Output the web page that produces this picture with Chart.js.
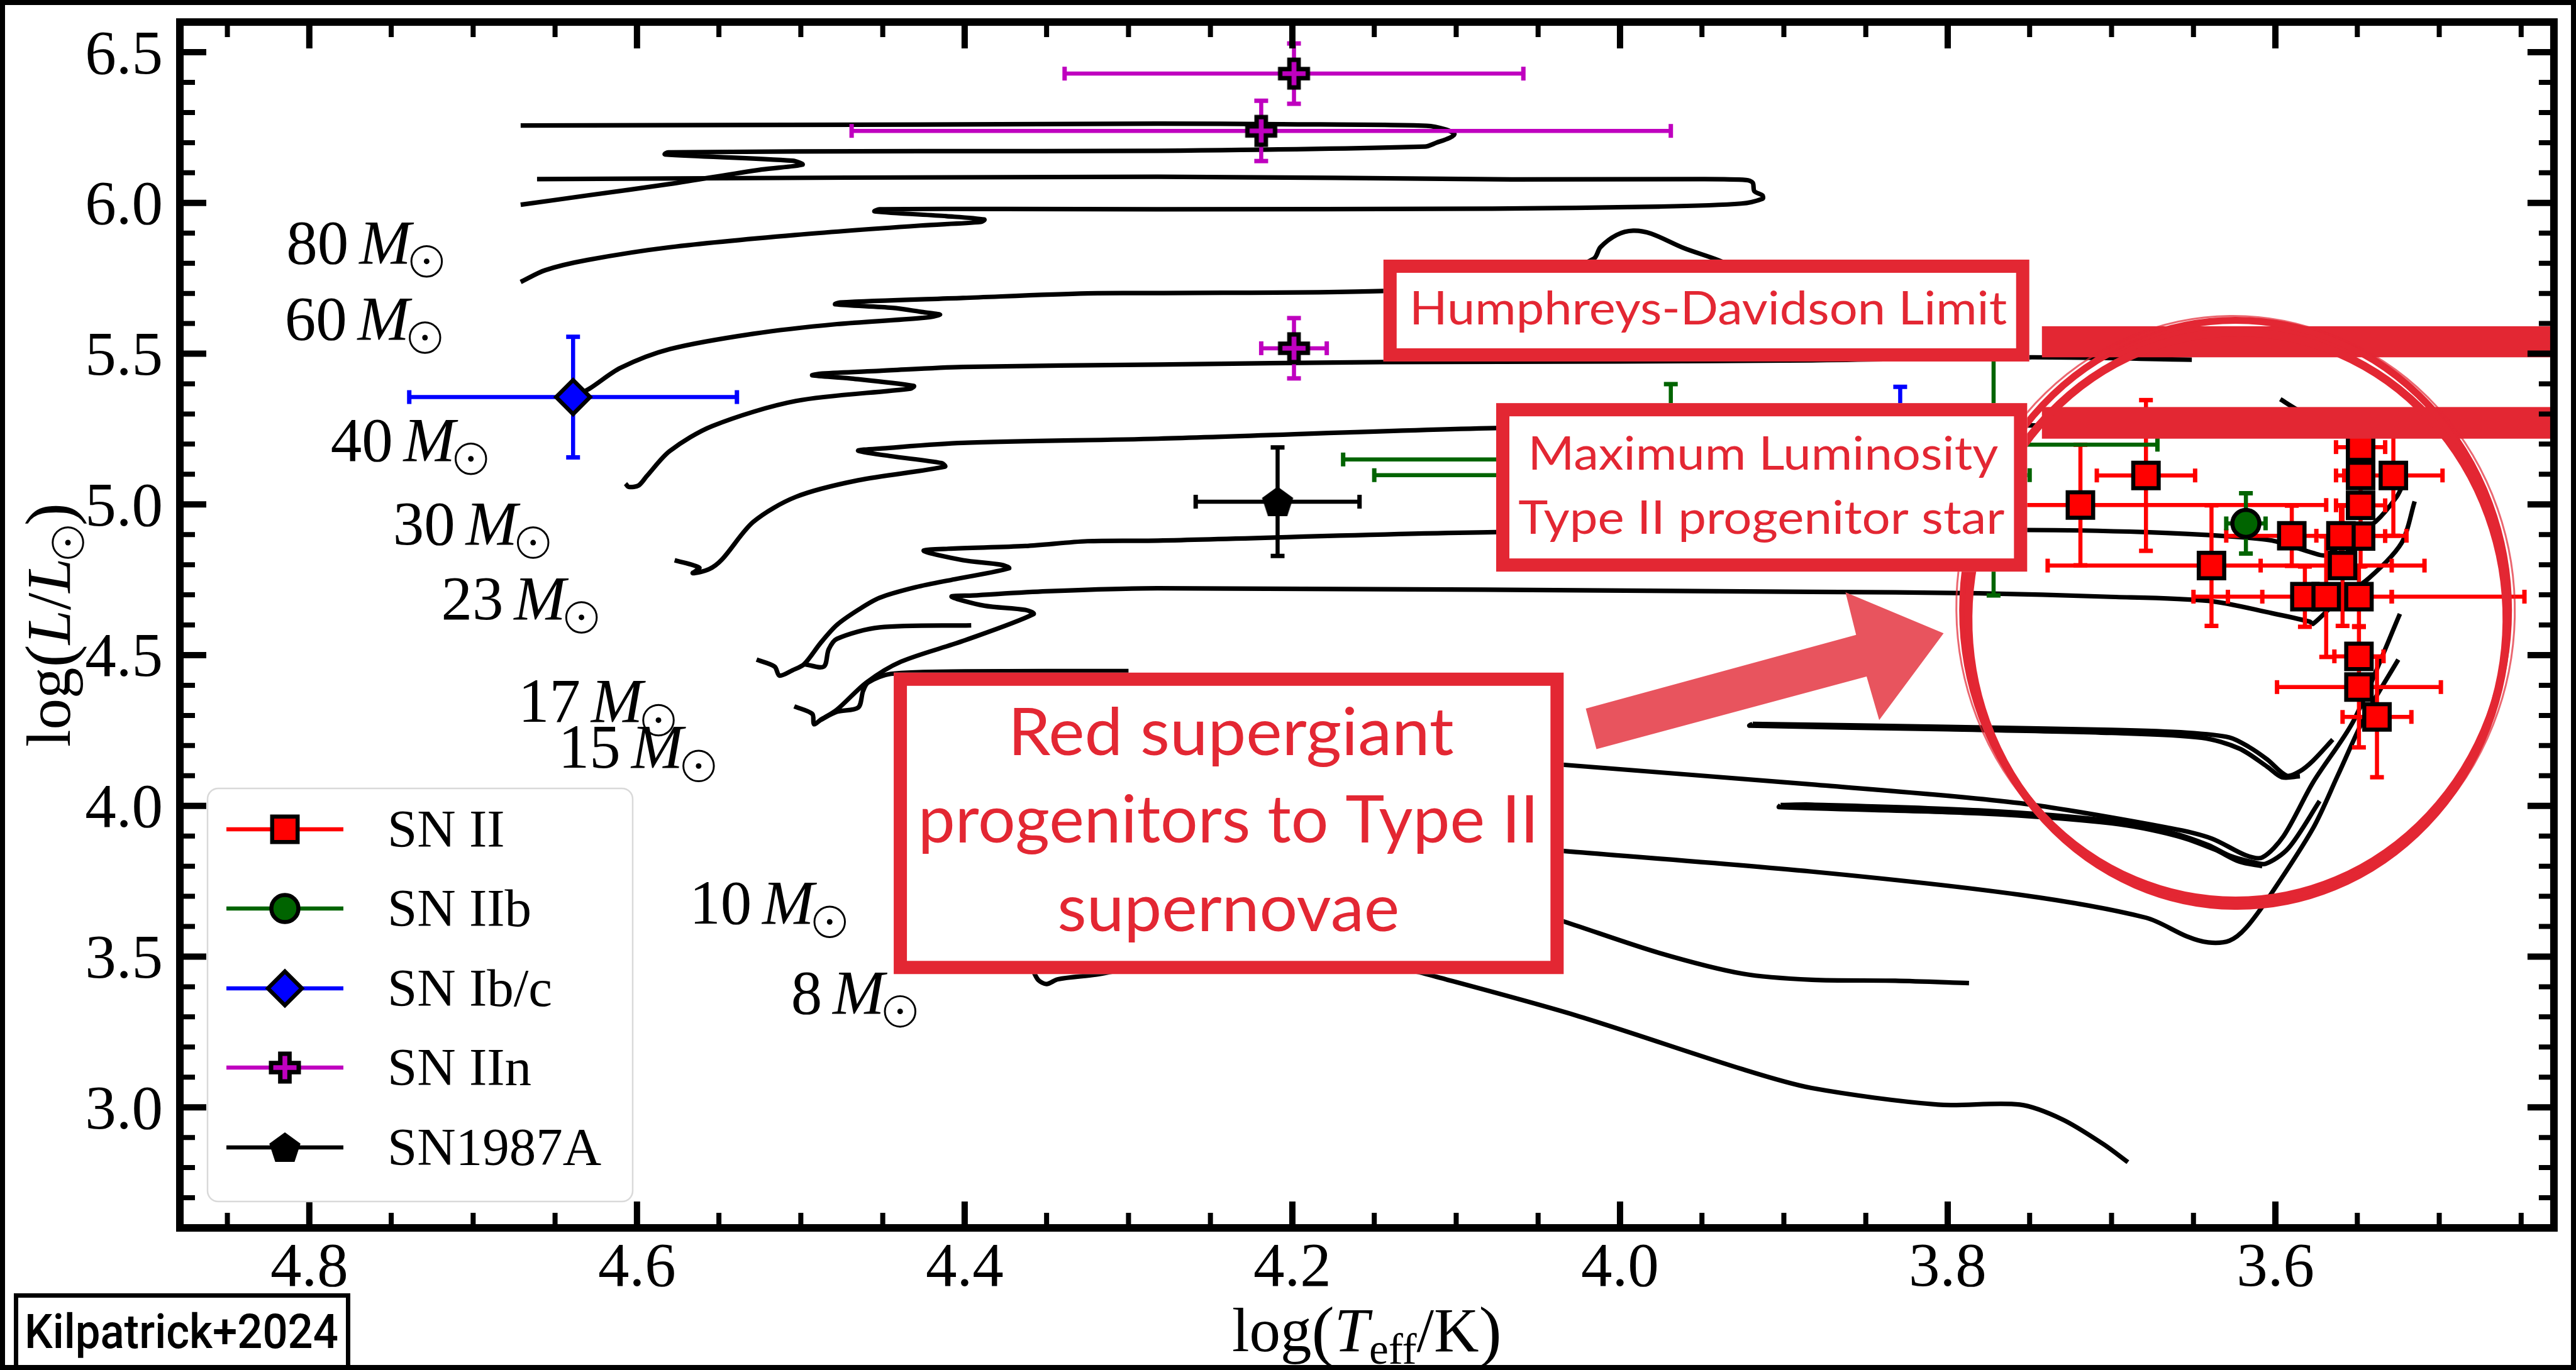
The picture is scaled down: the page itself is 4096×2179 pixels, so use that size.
<!DOCTYPE html>
<html>
<head>
<meta charset="utf-8">
<title>SN progenitors on the HR diagram</title>
<script src="https://cdn.jsdelivr.net/npm/chart.js@4.4.1/dist/chart.umd.min.js"></script>
<style>
  html, body { margin: 0; padding: 0; background: #fff; overflow: hidden; }
  canvas { display: block; }
</style>
</head>
<body>
<canvas id="hrd" width="4096" height="2179"></canvas>
<script>
// --- 1. values: x = log(Teff/K), y = log(L/Lsun) ---

const xTicks = [4.8, 4.6, 4.4, 4.2, 4.0, 3.8, 3.6];
const yTicks = [3.0, 3.5, 4.0, 4.5, 5.0, 5.5, 6.0, 6.5];

// SN II (red squares); xHot = error toward hotter (left), xCool = toward cooler (right)
const snIIx     = [3.719, 3.679, 3.639, 3.590, 3.548, 3.548, 3.548, 3.548, 3.560, 3.559, 3.582, 3.569, 3.549, 3.528, 3.549, 3.549, 3.538];
const snIIy     = [4.998, 5.096, 4.797, 4.896, 5.190, 5.096, 4.997, 4.895, 4.896, 4.797, 4.694, 4.694, 4.694, 5.096, 4.496, 4.394, 4.295];
const snIIxHot  = [0.15, 0.03, 0.10, 0.04, 0.015, 0.015, 0.015, 0.015, 0.015, 0.05, 0.068, 0.06, 0.059, 0.03, 0.015, 0.05, 0.021];
const snIIxCool = [0.15, 0.03, 0.13, 0.07, 0.015, 0.015, 0.015, 0.015, 0.015, 0.03, 0.053, 0.04, 0.101, 0.03, 0.015, 0.05, 0.021];
const snIIyErr  = [0.20, 0.25, 0.20, 0.10, 0.10, 0.10, 0.10, 0.10, 0.10, 0.20, 0.10, 0.20, 0.10, 0.20, 0.10, 0.20, 0.20];

// SN IIb (green circles)
const snIIbx    = [3.618, 3.969, 3.950, 3.772];
const snIIby    = [4.937, 5.149, 5.097, 5.198];
const snIIbxErr = [0.012, 0.20, 0.20, 0.10];
const snIIbyErr = [0.10, 0.25, 0.10, 0.50];

// SN Ib/c (blue diamonds)
const snIbcx    = [4.639, 3.829];
const snIbcy    = [5.356, 5.190];
const snIbcxErr = [0.10, 0.05];
const snIbcyErr = [0.20, 0.20];

// SN IIn (magenta plus)
const snIInx    = [4.199, 4.219, 4.199];
const snIIny    = [6.429, 6.239, 5.518];
const snIInxErr = [0.14, 0.25, 0.02];
const snIInyErr = [0.10, 0.10, 0.10];

// SN1987A (black pentagon)
const sn87x    = [4.209];
const sn87y    = [5.009];
const sn87xErr = [0.05];
const sn87yErr = [0.18];

// evolutionary tracks
const track80 = [[4.671,5.994],[4.630,6.025],[4.580,6.063],[4.524,6.111],[4.499,6.127],[4.505,6.140],[4.583,6.161],[4.581,6.168],[4.427,6.172],[4.282,6.173],[4.119,6.187],[4.112,6.200],[4.104,6.216],[4.101,6.228],[4.106,6.243],[4.118,6.256],[4.206,6.261],[4.282,6.263],[4.427,6.260],[4.671,6.257]];
const track60 = [[4.671,5.738],[4.656,5.777],[4.630,5.811],[4.580,5.853],[4.503,5.894],[4.427,5.925],[4.390,5.937],[4.388,5.945],[4.411,5.956],[4.455,5.972],[4.452,5.979],[4.376,5.980],[4.282,5.979],[4.078,5.981],[3.976,5.988],[3.926,5.998],[3.913,6.014],[3.913,6.025],[3.918,6.039],[3.919,6.067],[3.923,6.076],[3.951,6.079],[4.066,6.078],[4.282,6.087],[4.661,6.079]];
const track40 = [[4.639,5.356],[4.629,5.384],[4.610,5.453],[4.580,5.515],[4.529,5.566],[4.478,5.598],[4.427,5.618],[4.415,5.629],[4.427,5.639],[4.444,5.652],[4.479,5.664],[4.476,5.670],[4.401,5.685],[4.325,5.700],[4.282,5.701],[4.145,5.708],[4.050,5.740],[4.016,5.815],[4.012,5.853],[4.002,5.894],[3.992,5.908],[3.981,5.898],[3.961,5.850],[3.941,5.812],[3.900,5.720]];
const track30 = [[4.607,5.069],[4.605,5.058],[4.599,5.063],[4.594,5.094],[4.580,5.177],[4.554,5.260],[4.503,5.343],[4.433,5.384],[4.431,5.393],[4.470,5.418],[4.493,5.428],[4.487,5.434],[4.452,5.443],[4.401,5.456],[4.282,5.464],[4.145,5.472],[4.000,5.474],[3.883,5.478],[3.750,5.488],[3.651,5.480]];
const track23 = [[4.577,4.815],[4.562,4.790],[4.566,4.772],[4.556,4.785],[4.548,4.818],[4.529,4.942],[4.503,5.025],[4.465,5.080],[4.412,5.125],[4.414,5.137],[4.445,5.160],[4.465,5.178],[4.450,5.186],[4.401,5.204],[4.282,5.218],[4.076,5.253],[3.900,5.260],[3.751,5.262],[3.620,5.262],[3.578,5.290],[3.587,5.315],[3.597,5.349]];
const track17 = [[4.527,4.485],[4.516,4.462],[4.513,4.432],[4.505,4.450],[4.498,4.470],[4.488,4.540],[4.478,4.600],[4.465,4.650],[4.452,4.690],[4.430,4.725],[4.406,4.752],[4.373,4.788],[4.378,4.800],[4.401,4.815],[4.425,4.846],[4.410,4.853],[4.363,4.862],[4.325,4.878],[4.282,4.880],[4.076,4.908],[3.751,4.915],[3.679,4.908],[3.628,4.894],[3.602,4.880],[3.577,4.839],[3.569,4.832],[3.552,4.901],[3.539,4.942],[3.526,5.025],[3.521,5.080]];
const track17b = [[4.498,4.470],[4.486,4.462],[4.483,4.519],[4.478,4.554],[4.452,4.592],[4.396,4.599]];
const track15 = [[4.504,4.330],[4.493,4.305],[4.492,4.271],[4.488,4.285],[4.478,4.319],[4.460,4.409],[4.439,4.478],[4.401,4.547],[4.358,4.636],[4.363,4.650],[4.388,4.664],[4.408,4.694],[4.395,4.698],[4.350,4.712],[4.282,4.722],[3.883,4.710],[3.781,4.705],[3.704,4.694],[3.641,4.680],[3.602,4.639],[3.579,4.611],[3.577,4.604],[3.562,4.680],[3.543,4.755],[3.523,4.872],[3.515,5.010]];
const track15b = [[4.488,4.285],[4.478,4.312],[4.465,4.326],[4.462,4.381],[4.459,4.409],[4.445,4.438],[4.400,4.446],[4.300,4.447]];
const loop12a = [[3.919,4.272],[3.800,4.262],[3.700,4.252],[3.654,4.243],[3.628,4.227],[3.616,4.195],[3.605,4.154],[3.593,4.100],[3.585,4.115],[3.577,4.150],[3.565,4.220]];
const loop12b = [[3.919,4.272],[3.921,4.266],[3.800,4.254],[3.700,4.242],[3.645,4.226],[3.622,4.190],[3.605,4.130],[3.596,4.095],[3.585,4.098]];
const trackB = [[4.060,4.150],[4.034,4.136],[3.883,4.071],[3.756,4.009],[3.664,3.926],[3.639,3.892],[3.618,3.836],[3.608,3.829],[3.595,3.900],[3.577,4.078],[3.552,4.285],[3.524,4.637]];
const loop10a = [[3.902,4.003],[3.883,4.004],[3.781,3.985],[3.700,3.950],[3.664,3.912],[3.641,3.870],[3.628,3.835],[3.615,3.815],[3.606,3.808],[3.592,3.860],[3.573,4.016]];
const loop10b = [[3.902,4.003],[3.903,3.996],[3.781,3.975],[3.700,3.942],[3.660,3.900],[3.637,3.855],[3.622,3.815],[3.608,3.800]];
const trackC = [[4.060,3.860],[4.034,3.850],[3.883,3.782],[3.756,3.705],[3.679,3.629],[3.654,3.567],[3.641,3.547],[3.628,3.553],[3.618,3.595],[3.603,3.705],[3.577,3.926],[3.562,4.100],[3.545,4.300],[3.525,4.485]];
const trackD = [[4.060,3.660],[4.034,3.616],[3.976,3.512],[3.925,3.443],[3.883,3.423],[3.832,3.420],[3.787,3.412]];
const track8 = [[4.358,3.450],[4.355,3.422],[4.350,3.409],[4.343,3.425],[4.320,3.440],[4.300,3.458],[4.200,3.462],[4.130,3.456],[4.119,3.443],[4.027,3.305],[3.925,3.126],[3.883,3.064],[3.806,3.009],[3.756,3.009],[3.730,2.960],[3.705,2.878],[3.690,2.818]];

// track mass labels (left edge, baseline)
const massNames  = ['80', '60', '40', '30', '23', '17', '15', '10', '8'];
const massLabelX = [4.814, 4.815, 4.787, 4.749, 4.7195, 4.6725, 4.648, 4.568, 4.506];
const massLabelY = [5.800, 5.547, 5.145, 4.867, 4.619, 4.278, 4.126, 3.609, 3.312];

// legend
const legendNames = ['SN II', 'SN IIb', 'SN Ib/c', 'SN IIn', 'SN1987A'];

// annotation texts
const hdText = 'Humphreys-Davidson Limit';
const maxLumText = ['Maximum Luminosity', 'Type II progenitor star'];
const rsgText = ['Red supergiant', 'progenitors to Type II', 'supernovae'];


// --- 2. styling ---
const RED = 'rgb(227,39,51)';
const ARROW_RED = 'rgb(232,84,94)';
const C_II = 'rgb(255,0,0)';
const C_IIb = 'rgb(0,100,0)';
const C_Ibc = 'rgb(0,0,255)';
const C_IIn = 'rgb(191,0,191)';
const C_87 = 'rgb(0,0,0)';
const SERIF = '"Liberation Serif", "Times New Roman", serif';
const SANS = 'Lato, "Open Sans", sans-serif';
const TICK_FONT = 99;

function xy(xs, ys) {
    return xs.map((x, i) => ({ x: x, y: ys[i] }));
}
function pairs(arr) {
    return arr.map(p => ({ x: p[0], y: p[1] }));
}

// error bar segments, separated by gaps
function barPoints(xs, ys, xHot, xCool, yErr) {
    const pts = [];
    xs.forEach((x0, i) => {
        pts.push({ x: x0 + xHot[i], y: ys[i] }, { x: x0 - xCool[i], y: ys[i] }, { x: x0, y: null });
        pts.push({ x: x0, y: ys[i] - yErr[i] }, { x: x0, y: ys[i] + yErr[i] }, { x: x0, y: null });
    });
    return pts;
}
function capPoints(xs, ys, xHot, xCool, yErr) {
    const pts = [];
    xs.forEach((x0, i) => {
        pts.push({ x: x0 + xHot[i], y: ys[i], rot: 90 }, { x: x0 - xCool[i], y: ys[i], rot: 90 });
        pts.push({ x: x0, y: ys[i] - yErr[i], rot: 0 }, { x: x0, y: ys[i] + yErr[i], rot: 0 });
    });
    return pts;
}

function makePlus(size, fill, lw) {
    const c = document.createElement('canvas');
    c.width = c.height = Math.ceil(size + lw * 2);
    const g = c.getContext('2d');
    const m = c.width / 2, a = size / 2, t = size / 6;
    g.beginPath();
    g.moveTo(m - t, m - a); g.lineTo(m + t, m - a); g.lineTo(m + t, m - t); g.lineTo(m + a, m - t);
    g.lineTo(m + a, m + t); g.lineTo(m + t, m + t); g.lineTo(m + t, m + a); g.lineTo(m - t, m + a);
    g.lineTo(m - t, m + t); g.lineTo(m - a, m + t); g.lineTo(m - a, m - t); g.lineTo(m - t, m - t);
    g.closePath();
    g.fillStyle = fill; g.fill();
    g.lineWidth = lw; g.strokeStyle = '#000'; g.stroke();
    return c;
}
function makePentagon(r, lw) {
    const c = document.createElement('canvas');
    c.width = c.height = Math.ceil(2 * (r + lw));
    const g = c.getContext('2d');
    const m = c.width / 2;
    g.beginPath();
    for (let k = 0; k < 5; k++) {
        const ang = -Math.PI / 2 + k * 2 * Math.PI / 5;
        const px = m + r * Math.cos(ang), py = m + 2 + r * Math.sin(ang);
        if (k === 0) g.moveTo(px, py); else g.lineTo(px, py);
    }
    g.closePath();
    g.fillStyle = '#000'; g.fill();
    g.lineWidth = lw; g.strokeStyle = '#000'; g.stroke();
    return c;
}
const plusMarker = makePlus(44, C_IIn, 7);
const pentMarker = makePentagon(23, 5);

const markerStyle = {
    'SN II':   { style: 'rect',    radius: 28.6, color: C_II },
    'SN IIb':  { style: 'circle',  radius: 21.5, color: C_IIb },
    'SN Ib/c': { style: 'rectRot', radius: 27,   color: C_Ibc },
    'SN IIn':  { style: plusMarker, radius: 25,  color: C_IIn },
    'SN1987A': { style: pentMarker, radius: 25,  color: C_87 }
};

function markerSet(name, xs, ys) {
    const m = markerStyle[name];
    return {
        label: name, data: xy(xs, ys), showLine: false,
        pointStyle: m.style, pointRadius: m.radius,
        pointBackgroundColor: m.color, pointBorderColor: '#000', pointBorderWidth: 6.5
    };
}
function barSet(color, pts) {
    return {
        data: pts, showLine: true, spanGaps: false, pointRadius: 0,
        borderColor: color, borderWidth: 6.5, tension: 0
    };
}
function capSet(color, pts) {
    return {
        data: pts, showLine: false, pointStyle: 'line', pointRadius: 11,
        pointBorderColor: color, pointBorderWidth: 7,
        pointRotation: c => (c.raw && c.raw.rot) || 0
    };
}
function trackSet(arr) {
    return {
        data: pairs(arr), showLine: true, pointRadius: 0,
        borderColor: '#000', borderWidth: 7.2, tension: 0.3,
        borderJoinStyle: 'round', borderCapStyle: 'butt'
    };
}

const tracks = [track80, track60, track40, track30, track23, track17, track17b, track15, track15b,
    loop12a, loop12b, trackB, loop10a, loop10b, trackC, trackD, track8];

// first dataset is drawn top-most
const datasets = [
    markerSet('SN1987A', sn87x, sn87y),
    markerSet('SN IIn', snIInx, snIIny),
    markerSet('SN Ib/c', snIbcx, snIbcy),
    markerSet('SN IIb', snIIbx, snIIby),
    markerSet('SN II', snIIx, snIIy),
    capSet(C_87, capPoints(sn87x, sn87y, sn87xErr, sn87xErr, sn87yErr)),
    barSet(C_87, barPoints(sn87x, sn87y, sn87xErr, sn87xErr, sn87yErr)),
    capSet(C_IIn, capPoints(snIInx, snIIny, snIInxErr, snIInxErr, snIInyErr)),
    barSet(C_IIn, barPoints(snIInx, snIIny, snIInxErr, snIInxErr, snIInyErr)),
    capSet(C_Ibc, capPoints(snIbcx, snIbcy, snIbcxErr, snIbcxErr, snIbcyErr)),
    barSet(C_Ibc, barPoints(snIbcx, snIbcy, snIbcxErr, snIbcxErr, snIbcyErr)),
    capSet(C_IIb, capPoints(snIIbx, snIIby, snIIbxErr, snIIbxErr, snIIbyErr)),
    barSet(C_IIb, barPoints(snIIbx, snIIby, snIIbxErr, snIIbxErr, snIIbyErr)),
    capSet(C_II, capPoints(snIIx, snIIy, snIIxHot, snIIxCool, snIIyErr)),
    barSet(C_II, barPoints(snIIx, snIIy, snIIxHot, snIIxCool, snIIyErr))
].concat(tracks.map(trackSet));


// --- 3. drawing helpers ---

function mathParts(ctx, parts, size) {
    return parts.map(p => {
        const s = size * (p.sub ? 0.7 : 1) * (p.big || 1);
        const font = (p.it ? 'italic ' : '') + s.toFixed(1) + 'px ' + SERIF;
        let w;
        if (p.sun) w = size * 0.52;
        else if (p.sp) w = size * p.sp;
        else { ctx.font = font; w = ctx.measureText(p.t).width; }
        return Object.assign({}, p, { font: font, w: w });
    });
}
function drawMath(ctx, parts, x0, base, size, align) {
    const ps = mathParts(ctx, parts, size);
    const total = ps.reduce((s, p) => s + p.w, 0);
    let x = align === 'center' ? x0 - total / 2 : x0;
    ctx.textAlign = 'left';
    ctx.textBaseline = 'alphabetic';
    ctx.fillStyle = '#000';
    ctx.strokeStyle = '#000';
    ps.forEach(p => {
        if (p.sun) {
            const r = size * 0.245, cx = x + size * 0.25, cy = base - size * 0.03;
            ctx.lineWidth = size * 0.03;
            ctx.beginPath(); ctx.arc(cx, cy, r, 0, 2 * Math.PI); ctx.stroke();
            ctx.beginPath(); ctx.arc(cx, cy, size * 0.045, 0, 2 * Math.PI); ctx.fill();
        } else if (p.t) {
            ctx.font = p.font;
            ctx.fillText(p.t, x, base + (p.sub ? size * 0.2 : 0) + (p.big ? size * 0.04 : 0));
        }
        x += p.w;
    });
}

function drawFitText(ctx, text, cx, base, font, width, color) {
    ctx.save();
    ctx.font = font;
    const w = ctx.measureText(text).width;
    ctx.translate(cx, base);
    ctx.scale(width / w, 1);
    ctx.fillStyle = color;
    ctx.textAlign = 'center';
    ctx.textBaseline = 'alphabetic';
    ctx.fillText(text, 0, 0);
    ctx.restore();
}

function redBox(ctx, sx, sy, x0, x1, y0, y1) {
    const l = sx.getPixelForValue(x0), r = sx.getPixelForValue(x1);
    const t = sy.getPixelForValue(y1), b = sy.getPixelForValue(y0);
    const bw = 21;
    ctx.fillStyle = '#fff';
    ctx.fillRect(l, t, r - l, b - t);
    ctx.strokeStyle = RED;
    ctx.lineWidth = bw;
    ctx.strokeRect(l + bw / 2, t + bw / 2, r - l - bw, b - t - bw);
}

function drawAnnotations(chart) {
    const { ctx, chartArea: a, scales: { x: sx, y: sy } } = chart;
    const X = v => sx.getPixelForValue(v), Y = v => sy.getPixelForValue(v);
    ctx.save();

    // two thick limit bars
    ctx.fillStyle = RED;
    ctx.fillRect(X(3.7425), Y(5.591), a.right - X(3.7425), Y(5.488) - Y(5.591));
    ctx.fillRect(X(3.7425), Y(5.323), a.right - X(3.7425), Y(5.218) - Y(5.323));

    // hand-drawn ring round the red supergiants
    const ecx = X(3.6243), ecy = Y(4.649);
    ctx.strokeStyle = RED;
    ctx.lineWidth = 11;
    ctx.beginPath(); ctx.ellipse(ecx, ecy, 434, 461, 0, 0, 2 * Math.PI); ctx.stroke();
    ctx.lineWidth = 13;
    ctx.beginPath(); ctx.ellipse(ecx + 3, ecy + 14, 428, 456, 0.01, 0, 2 * Math.PI); ctx.stroke();
    ctx.globalAlpha = 0.7;
    ctx.lineWidth = 3;
    ctx.beginPath(); ctx.ellipse(ecx - 4, ecy - 4, 440, 464, -0.01, 0, 2 * Math.PI); ctx.stroke();
    ctx.beginPath(); ctx.ellipse(ecx + 6, ecy + 2, 438, 466, 0.02, 0, 2 * Math.PI); ctx.stroke();
    ctx.globalAlpha = 1;

    // arrow
    const arrow = [[4.0209, 4.3227], [4.0144, 4.1880], [3.8495, 4.4293], [3.8418, 4.2845],
        [3.8025, 4.5724], [3.8624, 4.7088], [3.8559, 4.5674]];
    ctx.fillStyle = ARROW_RED;
    ctx.beginPath();
    arrow.forEach((p, i) => { if (i === 0) ctx.moveTo(X(p[0]), Y(p[1])); else ctx.lineTo(X(p[0]), Y(p[1])); });
    ctx.closePath();
    ctx.fill();

    // boxes
    redBox(ctx, sx, sy, 4.1444, 3.7502, 5.474, 5.812);
    drawFitText(ctx, hdText, X(3.9462), Y(5.597), '74px ' + SANS, 950, RED);

    redBox(ctx, sx, sy, 4.0756, 3.7515, 4.777, 5.336);
    drawFitText(ctx, maxLumText[0], X(3.9127), Y(5.1147), '74px ' + SANS, 748, RED);
    drawFitText(ctx, maxLumText[1], X(3.9137), Y(4.9017), '74px ' + SANS, 773, RED);

    redBox(ctx, sx, sy, 4.4433, 4.0344, 3.442, 4.442);
    drawFitText(ctx, rsgText[0], X(4.2375), Y(4.168), '104px ' + SANS, 709, RED);
    drawFitText(ctx, rsgText[1], X(4.239), Y(3.8785), '104px ' + SANS, 987, RED);
    drawFitText(ctx, rsgText[2], X(4.239), Y(3.584), '104px ' + SANS, 544, RED);

    ctx.restore();
}

function drawAxes(chart) {
    const { ctx, chartArea: a, scales: { x: sx, y: sy } } = chart;
    ctx.save();
    ctx.strokeStyle = '#000';
    ctx.lineCap = 'butt';

    const xMinor = [], yMinor = [];
    for (let v = 3.45; v < 4.87; v += 0.05) {
        const r = Math.round(v * 100) / 100;
        if (Math.abs(r * 5 - Math.round(r * 5)) > 1e-6) xMinor.push(r);
    }
    for (let v = 2.7; v < 6.59; v += 0.1) {
        const r = Math.round(v * 10) / 10;
        if (Math.abs(r * 2 - Math.round(r * 2)) > 1e-6) yMinor.push(r);
    }

    function xTick(v, len, w) {
        const px = sx.getPixelForValue(v);
        ctx.lineWidth = w;
        ctx.beginPath();
        ctx.moveTo(px, a.bottom); ctx.lineTo(px, a.bottom - len);
        ctx.moveTo(px, a.top); ctx.lineTo(px, a.top + len);
        ctx.stroke();
    }
    function yTick(v, len, w) {
        const py = sy.getPixelForValue(v);
        ctx.lineWidth = w;
        ctx.beginPath();
        ctx.moveTo(a.left, py); ctx.lineTo(a.left + len, py);
        ctx.moveTo(a.right, py); ctx.lineTo(a.right - len, py);
        ctx.stroke();
    }
    xMinor.forEach(v => xTick(v, 24, 8));
    yMinor.forEach(v => yTick(v, 24, 8));
    xTicks.forEach(v => xTick(v, 42, 10));
    yTicks.forEach(v => yTick(v, 42, 10));

    ctx.lineWidth = 12;
    ctx.strokeRect(a.left, a.top, a.right - a.left, a.bottom - a.top);

    // tick labels
    ctx.fillStyle = '#000';
    ctx.font = TICK_FONT + 'px ' + SERIF;
    ctx.textBaseline = 'alphabetic';
    ctx.textAlign = 'center';
    xTicks.forEach(v => ctx.fillText(v.toFixed(1), sx.getPixelForValue(v), a.bottom + 92));
    ctx.textAlign = 'right';
    yTicks.forEach(v => ctx.fillText(v.toFixed(1), a.left - 27, sy.getPixelForValue(v) + TICK_FONT * 0.338));

    // axis titles
    const xTitle = [{ t: 'log' }, { t: '(', big: 1.1 }, { t: 'T', it: true }, { t: 'eff', sub: true },
        { t: '/' }, { t: 'K' }, { t: ')', big: 1.1 }];
    const yTitle = [{ t: 'log' }, { t: '(', big: 1.1 }, { t: 'L', it: true }, { t: '/' },
        { t: 'L', it: true }, { sun: true }, { t: ')', big: 1.1 }];
    drawMath(ctx, xTitle, (a.left + a.right) / 2, 2149, TICK_FONT, 'center');
    ctx.save();
    ctx.translate(111, (a.top + a.bottom) / 2);
    ctx.rotate(-Math.PI / 2);
    drawMath(ctx, yTitle, 0, 0, TICK_FONT, 'center');
    ctx.restore();

    // mass labels next to the tracks
    massNames.forEach((m, i) => {
        drawMath(ctx, [{ t: m }, { sp: 0.17 }, { t: 'M', it: true }, { sun: true }],
            sx.getPixelForValue(massLabelX[i]), sy.getPixelForValue(massLabelY[i]), TICK_FONT, 'left');
    });
    ctx.restore();
}

function drawLegend(chart) {
    const { ctx, chartArea: a } = chart;
    const L = a.left + 44, W = 676, B = a.bottom - 42, H = 657, T = B - H;
    ctx.save();
    ctx.beginPath();
    ctx.roundRect(L, T, W, H, 17);
    ctx.fillStyle = 'rgba(255,255,255,0.8)';
    ctx.fill();
    ctx.lineWidth = 2.5;
    ctx.strokeStyle = '#d9d9d9';
    ctx.stroke();

    const rows = [65, 191, 318, 444, 571];
    legendNames.forEach((name, i) => {
        const m = markerStyle[name];
        const ry = T + rows[i];
        ctx.strokeStyle = m.color;
        ctx.lineWidth = 6.5;
        ctx.beginPath(); ctx.moveTo(L + 30, ry); ctx.lineTo(L + 216, ry); ctx.stroke();
        ctx.fillStyle = m.color;
        ctx.strokeStyle = '#000';
        ctx.lineWidth = 6.5;
        Chart.helpers.drawPoint(ctx, { pointStyle: m.style, radius: m.radius, borderWidth: 6.5, rotation: 0 }, L + 123, ry);
        ctx.fillStyle = '#000';
        ctx.font = '85px ' + SERIF;
        ctx.textAlign = 'left';
        ctx.textBaseline = 'alphabetic';
        ctx.fillText(name, L + 286, ry + 85 * 0.33);
    });
    ctx.restore();
}

function drawFrame(chart) {
    const { ctx, width, height } = chart;
    ctx.save();
    // credit box
    ctx.fillStyle = '#fff';
    ctx.fillRect(22, 2057, 535, 122);
    ctx.strokeStyle = '#000';
    ctx.lineWidth = 7;
    ctx.strokeRect(25.5, 2060.5, 528, 125);
    ctx.fillStyle = '#000';
    ctx.font = '500 76px Roboto, "DejaVu Sans", sans-serif';
    ctx.textAlign = 'left';
    ctx.textBaseline = 'alphabetic';
    const txt = 'Kilpatrick+2024';
    const w = ctx.measureText(txt).width;
    ctx.save();
    ctx.translate(39, 2144);
    ctx.scale(499 / w, 1);
    ctx.fillText(txt, 0, 0);
    ctx.restore();
    // outer frame
    ctx.lineWidth = 8;
    ctx.strokeRect(4, 4, width - 8, height - 8);
    ctx.restore();
}

const figurePlugin = {
    id: 'figure',
    beforeDraw(chart) {
        const { ctx, width, height } = chart;
        ctx.save();
        ctx.fillStyle = '#fff';
        ctx.fillRect(0, 0, width, height);
        ctx.restore();
    },
    afterDraw(chart) {
        drawAnnotations(chart);
        drawAxes(chart);
        drawLegend(chart);
        drawFrame(chart);
    }
};


// --- 4. chart ---
const chart = new Chart(document.getElementById('hrd').getContext('2d'), {
    type: 'scatter',
    data: { datasets: datasets },
    options: {
        responsive: false,
        animation: false,
        devicePixelRatio: 1,
        events: [],
        layout: { padding: { left: 286, right: 28, top: 26, bottom: 226 } },
        scales: {
            x: { type: 'linear', display: false, reverse: true, min: 3.430, max: 4.879 },
            y: { type: 'linear', display: false, min: 2.6, max: 6.6 }
        },
        plugins: {
            legend: { display: false },
            tooltip: { enabled: false }
        }
    },
    plugins: [figurePlugin]
});
</script>
</body>
</html>
